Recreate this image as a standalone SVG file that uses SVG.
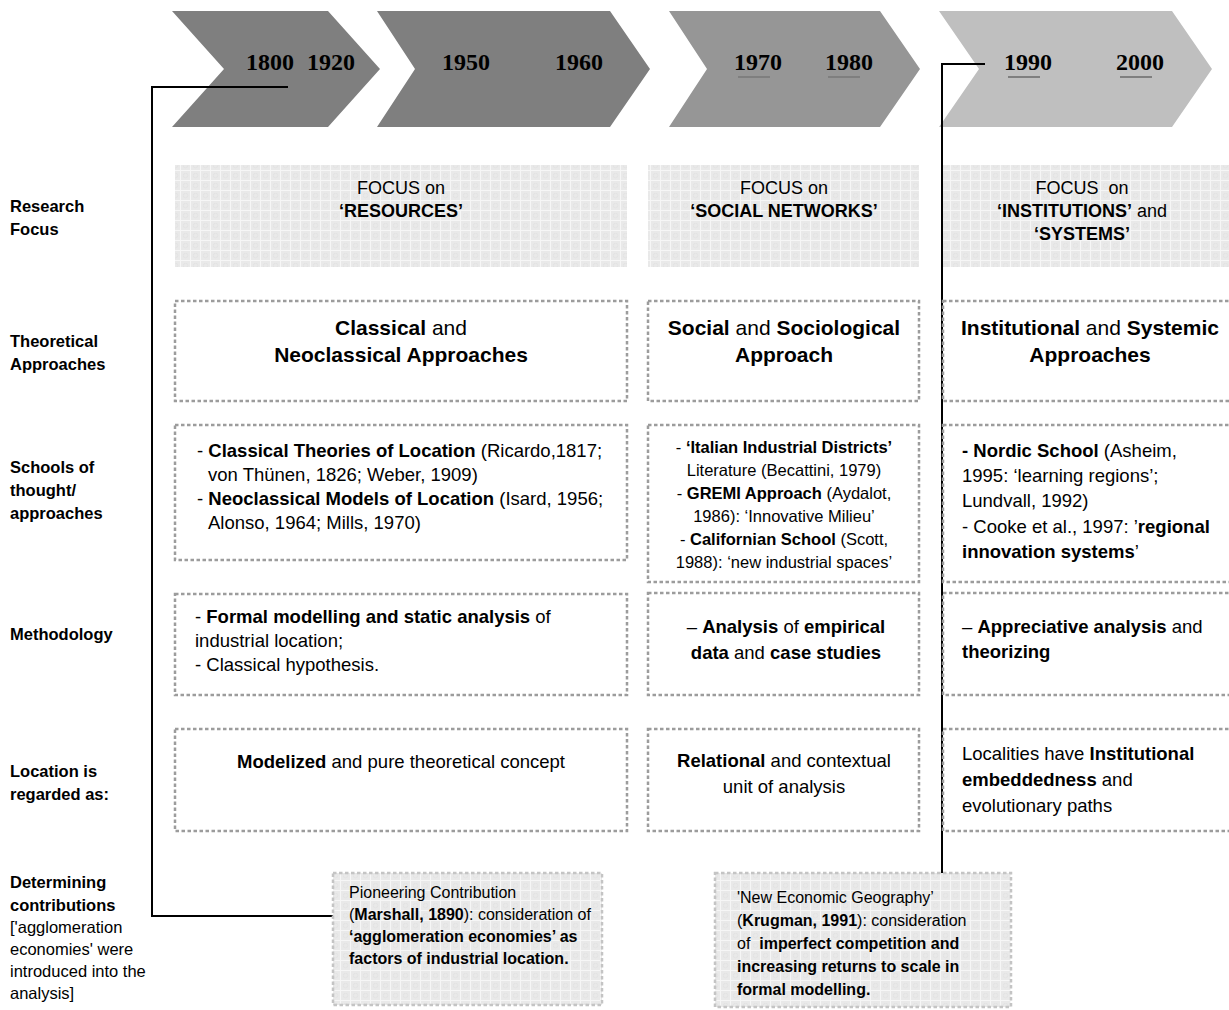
<svg xmlns="http://www.w3.org/2000/svg" width="1229" height="1010" viewBox="0 0 1229 1010">
<defs>
<pattern id="tex" width="10" height="10" patternUnits="userSpaceOnUse">
<rect width="10" height="10" fill="#e9e9e9"/>
<path d="M0 0.5H10M0.5 0V10" stroke="#f6f6f6" stroke-width="1"/>
<circle cx="5.5" cy="5.5" r="2.2" fill="none" stroke="#e1e1e1" stroke-width="0.8"/>
</pattern>
<style>
text{font-family:"Liberation Sans",Arial,sans-serif;fill:#000}
.yr{font-family:"Liberation Serif","Times New Roman",serif;font-weight:bold;font-size:24px}
.lbl{font-size:16.5px;font-weight:bold}
.lblr{font-size:16.5px}
.f{font-size:18px}
.th{font-size:21px}
.bd{font-size:18.5px}
.sm{font-size:16.5px}
.bt{font-size:16px}
.b{font-weight:bold}
.c{text-anchor:middle}
.dot{fill:#fff;stroke:#9c9c9c;stroke-width:2.5;stroke-dasharray:3.5 2.5}
.dotl{fill:url(#tex);stroke:#c4c4c4;stroke-width:2.5;stroke-dasharray:3.5 2.5}
.focus{fill:url(#tex)}
.ul{stroke:#7f7f7f;stroke-width:2}
.con{fill:none;stroke:#000;stroke-width:2}
</style>
</defs>
<rect width="1229" height="1010" fill="#fff"/>

<g id="timeline">
<polygon points="172,11 328,11 380,69 328,127 172,127 224,69" fill="#7f7f7f"/>
<polygon points="377,11 610,11 650,69 610,127 377,127 415,69" fill="#7f7f7f"/>
<polygon points="669,11 880,11 920,69 880,127 669,127 707,69" fill="#969696"/>
<polygon points="939,11 1172,11 1212,69 1172,127 939,127 979,69" fill="#bfbfbf"/>
<text class="yr" x="246" y="70">1800</text>
<text class="yr" x="307" y="70">1920</text>
<text class="yr" x="442" y="70">1950</text>
<text class="yr" x="555" y="70">1960</text>
<text class="yr" x="734" y="70">1970</text>
<text class="yr" x="825" y="70">1980</text>
<text class="yr" x="1004" y="70">1990</text>
<text class="yr" x="1116" y="70">2000</text>
<line class="ul" x1="738" y1="77" x2="770" y2="77"/>
<line class="ul" x1="828" y1="77" x2="860" y2="77"/>
<line class="ul" x1="1008" y1="77" x2="1040" y2="77"/>
<line class="ul" x1="1120" y1="77" x2="1152" y2="77"/>
</g>

<g id="row-labels">
<text class="lbl" x="10" y="212">Research</text>
<text class="lbl" x="10" y="235">Focus</text>
<text class="lbl" x="10" y="347">Theoretical</text>
<text class="lbl" x="10" y="370">Approaches</text>
<text class="lbl" x="10" y="473">Schools of</text>
<text class="lbl" x="10" y="496">thought/</text>
<text class="lbl" x="10" y="519">approaches</text>
<text class="lbl" x="10" y="640">Methodology</text>
<text class="lbl" x="10" y="777">Location is</text>
<text class="lbl" x="10" y="800">regarded as:</text>
<text class="lbl" x="10" y="888">Determining</text>
<text class="lbl" x="10" y="911">contributions</text>
<text class="lblr" x="10" y="933">['agglomeration</text>
<text class="lblr" x="10" y="955">economies' were</text>
<text class="lblr" x="10" y="977">introduced into the</text>
<text class="lblr" x="10" y="999">analysis]</text>
</g>

<g id="connectors">
<path class="con" d="M288,87 H152 V916 H333"/>
<path class="con" d="M985,64 H942 V873"/>
</g>

<g id="focus-resources">
<rect class="focus" x="175" y="165" width="452" height="102"/>
<text class="f c" x="401" y="194">FOCUS on</text>
<text class="f c b" x="401" y="217">‘RESOURCES’</text>
</g>
<g id="focus-social">
<rect class="focus" x="648" y="165" width="271" height="102"/>
<text class="f c" x="784" y="194">FOCUS on</text>
<text class="f c b" x="784" y="217">‘SOCIAL NETWORKS’</text>
</g>
<g id="focus-institutions">
<rect class="focus" x="943" y="165" width="290" height="102"/>
<text class="f c" x="1082" y="194" xml:space="preserve">FOCUS  on</text>
<text class="f c" x="1082" y="217"><tspan class="b">‘INSTITUTIONS’</tspan> and</text>
<text class="f c b" x="1082" y="240">‘SYSTEMS’</text>
</g>

<g id="theory-classical">
<rect class="dot" x="175" y="301" width="452" height="100"/>
<text class="th c" x="401" y="335"><tspan class="b">Classical</tspan> and</text>
<text class="th c b" x="401" y="362">Neoclassical Approaches</text>
</g>
<g id="theory-social">
<rect class="dot" x="648" y="301" width="271" height="100"/>
<text class="th c" x="784" y="335"><tspan class="b">Social</tspan> and <tspan class="b">Sociological</tspan></text>
<text class="th c b" x="784" y="362">Approach</text>
</g>
<g id="theory-institutional">
<rect class="dot" x="943" y="301" width="300" height="100"/>
<text class="th c" x="1090" y="335"><tspan class="b">Institutional</tspan> and <tspan class="b">Systemic</tspan></text>
<text class="th c b" x="1090" y="362">Approaches</text>
</g>

<g id="schools-classical">
<rect class="dot" x="175" y="425" width="452" height="135"/>
<text class="bd" x="197" y="457">- <tspan class="b">Classical Theories of Location</tspan> (Ricardo,1817;</text>
<text class="bd" x="208" y="481">von Thünen, 1826; Weber, 1909)</text>
<text class="bd" x="197" y="505">- <tspan class="b">Neoclassical Models of Location</tspan> (Isard, 1956;</text>
<text class="bd" x="208" y="529">Alonso, 1964; Mills, 1970)</text>
</g>
<g id="schools-social">
<rect class="dot" x="648" y="425" width="271" height="157"/>
<text class="sm c" x="784" y="453">- <tspan class="b">‘Italian Industrial Districts’</tspan></text>
<text class="sm c" x="784" y="476">Literature (Becattini, 1979)</text>
<text class="sm c" x="784" y="499">- <tspan class="b">GREMI Approach</tspan> (Aydalot,</text>
<text class="sm c" x="784" y="522">1986): ‘Innovative Milieu’</text>
<text class="sm c" x="784" y="545">- <tspan class="b">Californian School</tspan> (Scott,</text>
<text class="sm c" x="784" y="568">1988): ‘new industrial spaces’</text>
</g>
<g id="schools-institutional">
<rect class="dot" x="943" y="425" width="300" height="157"/>
<text class="bd" x="962" y="457"><tspan class="b">- Nordic School</tspan> (Asheim,</text>
<text class="bd" x="962" y="482">1995: ‘learning regions’;</text>
<text class="bd" x="962" y="507">Lundvall, 1992)</text>
<text class="bd" x="962" y="533">- Cooke et al., 1997: ’<tspan class="b">regional</tspan></text>
<text class="bd" x="962" y="558"><tspan class="b">innovation systems</tspan>’</text>
</g>

<g id="method-classical">
<rect class="dot" x="175" y="594" width="452" height="101"/>
<text class="bd" x="195" y="623">- <tspan class="b">Formal modelling and static analysis</tspan> of</text>
<text class="bd" x="195" y="647">industrial location;</text>
<text class="bd" x="195" y="671">- Classical hypothesis.</text>
</g>
<g id="method-social">
<rect class="dot" x="648" y="593" width="271" height="102"/>
<text class="bd c" x="786" y="633">– <tspan class="b">Analysis</tspan> of <tspan class="b">empirical</tspan></text>
<text class="bd c" x="786" y="659"><tspan class="b">data</tspan> and <tspan class="b">case studies</tspan></text>
</g>
<g id="method-institutional">
<rect class="dot" x="943" y="593" width="300" height="102"/>
<text class="bd" x="962" y="633">– <tspan class="b">Appreciative analysis</tspan> and</text>
<text class="bd b" x="962" y="658">theorizing</text>
</g>

<g id="location-classical">
<rect class="dot" x="175" y="729" width="452" height="102"/>
<text class="bd c" x="401" y="768"><tspan class="b">Modelized</tspan> and pure theoretical concept</text>
</g>
<g id="location-social">
<rect class="dot" x="648" y="729" width="271" height="102"/>
<text class="bd c" x="784" y="767"><tspan class="b">Relational</tspan> and contextual</text>
<text class="bd c" x="784" y="793">unit of analysis</text>
</g>
<g id="location-institutional">
<rect class="dot" x="943" y="729" width="300" height="102"/>
<text class="bd" x="962" y="760">Localities have <tspan class="b">Institutional</tspan></text>
<text class="bd" x="962" y="786"><tspan class="b">embeddedness</tspan> and</text>
<text class="bd" x="962" y="812">evolutionary paths</text>
</g>

<g id="contribution-marshall">
<rect class="dotl" x="333" y="873" width="269" height="132"/>
<text class="bt" x="349" y="898">Pioneering Contribution</text>
<text class="bt" x="349" y="920">(<tspan class="b">Marshall, 1890</tspan>): consideration of</text>
<text class="bt b" x="349" y="942">‘agglomeration economies’ as</text>
<text class="bt b" x="349" y="964">factors of industrial location.</text>
</g>
<g id="contribution-krugman">
<rect class="dotl" x="715" y="873" width="296" height="134"/>
<text class="bt" x="737" y="903">'New Economic Geography’</text>
<text class="bt" x="737" y="926">(<tspan class="b">Krugman, 1991</tspan>): consideration</text>
<text class="bt" x="737" y="949" xml:space="preserve">of  <tspan class="b">imperfect competition and</tspan></text>
<text class="bt b" x="737" y="972">increasing returns to scale in</text>
<text class="bt b" x="737" y="995">formal modelling.</text>
</g>
</svg>
